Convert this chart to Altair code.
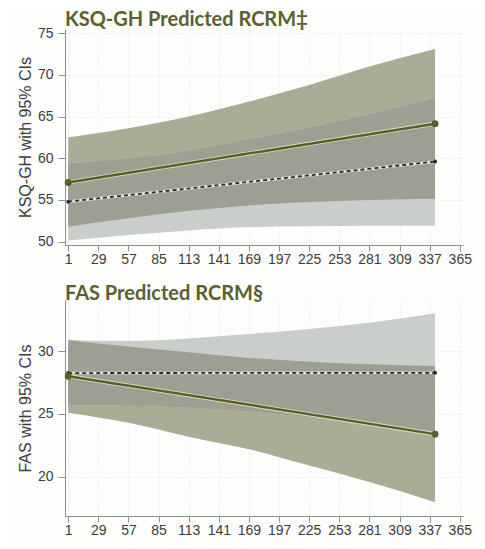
import altair as alt
import pandas as pd

# ---------------- data ----------------
band_days = [1, 57, 113, 169, 225, 281, 342]
line_days = [1, 342]
x_ticks = [1, 29, 57, 85, 113, 141, 169, 197, 225, 253, 281, 309, 337, 365]

# KSQ-GH panel
ksq_tx_mean = [57.1, 64.15]
ksq_ctl_mean = [54.8, 59.6]
ksq_tx_hi = [62.5, 63.6, 65.0, 66.8, 68.8, 71.0, 73.1]
ksq_tx_lo = [51.8, 52.8, 53.7, 54.35, 54.75, 55.0, 55.15]
ksq_ctl_hi = [59.4, 60.0, 60.9, 62.3, 63.7, 65.3, 67.3]
ksq_ctl_lo = [50.15, 50.8, 51.35, 51.75, 51.85, 51.9, 51.9]
ksq_yticks = [50, 55, 60, 65, 70, 75]

# FAS panel
fas_tx_mean = [28.0, 23.4]
fas_ctl_mean = [28.25, 28.27]
fas_tx_hi = [30.9, 30.35, 29.9, 29.45, 29.15, 28.95, 28.8]
fas_tx_lo = [25.1, 24.3, 23.2, 22.2, 20.9, 19.6, 18.0]
fas_ctl_hi = [30.85, 30.8, 31.0, 31.35, 31.75, 32.25, 33.0]
fas_ctl_lo = [25.7, 25.65, 25.5, 25.2, 24.75, 24.2, 23.55]
fas_yticks = [20, 25, 30]

# ---------------- styling ----------------
OLIVE_BAND = "#abac95"
GREY_BAND = "#c9cecb"
OVERLAP = "#9c9f91"
OLIVE_LINE = "#5a5e2c"
DARK_LINE = "#2a2e2a"
TITLE_COLOR = "#5b6030"
W, H = 398, 216


def panel(title, ytitle, ydomain, yticks, tx_mean, ctl_mean,
          tx_hi, tx_lo, ctl_hi, ctl_lo):
    bands = pd.DataFrame({"day": band_days, "tx_hi": tx_hi, "tx_lo": tx_lo,
                          "ctl_hi": ctl_hi, "ctl_lo": ctl_lo})
    bands["ov_hi"] = bands[["tx_hi", "ctl_hi"]].min(axis=1)
    bands["ov_lo"] = bands[["tx_lo", "ctl_lo"]].max(axis=1)
    lines = pd.DataFrame({"day": line_days, "tx": tx_mean, "ctl": ctl_mean})

    x = alt.X("day:Q",
              scale=alt.Scale(domain=[-2, 368], nice=False, zero=False),
              axis=alt.Axis(values=x_ticks, title=None, labelOverlap=False,
                            labelFlush=False, tickSize=6, labelPadding=1))
    yscale = alt.Scale(domain=ydomain, nice=False, zero=False)
    yaxis = alt.Axis(values=yticks, title=ytitle, tickSize=7,
                     labelPadding=5, titlePadding=4)

    def Y(field):
        return alt.Y(field, type="quantitative", scale=yscale, axis=yaxis,
                     title=ytitle)

    bb = alt.Chart(bands)
    olive = bb.mark_area(color=OLIVE_BAND, interpolate="monotone").encode(
        x=x, y=Y("tx_lo"), y2="tx_hi:Q")
    grey = bb.mark_area(color=GREY_BAND, interpolate="monotone").encode(
        x=x, y=Y("ctl_lo"), y2="ctl_hi:Q")
    ov = bb.mark_area(color=OVERLAP, interpolate="monotone").encode(
        x=x, y=Y("ov_lo"), y2="ov_hi:Q")

    lb = alt.Chart(lines)
    tx_halo = lb.mark_line(color="#dedec6", strokeWidth=4.2).encode(
        x=x, y=Y("tx"))
    tx_line = lb.mark_line(color=OLIVE_LINE, strokeWidth=2.5).encode(
        x=x, y=Y("tx"))
    tx_pts = lb.mark_circle(color=OLIVE_LINE, size=48, opacity=1).encode(
        x=x, y=Y("tx"))
    ctl_halo = lb.mark_line(color="#e4e6e0", strokeWidth=2.6).encode(
        x=x, y=Y("ctl"))
    ctl_line = lb.mark_line(color=DARK_LINE, strokeWidth=1.8,
                            strokeDash=[4, 3]).encode(
        x=x, y=Y("ctl"))
    ctl_pts = lb.mark_circle(color=DARK_LINE, size=16, opacity=1).encode(
        x=x, y=Y("ctl"))

    return alt.layer(olive, grey, ov, ctl_halo, ctl_line, ctl_pts,
                     tx_halo, tx_line, tx_pts).properties(
        width=W, height=H,
        title=alt.TitleParams(text=title, anchor="start", frame="group",
                              font="Lato", fontSize=20, fontWeight="bold",
                              color=TITLE_COLOR, offset=-4))


top = panel("KSQ-GH Predicted RCRM\u2021", "KSQ-GH with 95% CIs",
            [49.6, 75.5], ksq_yticks, ksq_tx_mean, ksq_ctl_mean,
            ksq_tx_hi, ksq_tx_lo, ksq_ctl_hi, ksq_ctl_lo)
bottom = panel("FAS Predicted RCRM\u00a7", "FAS with 95% CIs",
               [16.9, 34.05], fas_yticks, fas_tx_mean, fas_ctl_mean,
               fas_tx_hi, fas_tx_lo, fas_ctl_hi, fas_ctl_lo)

chart = alt.vconcat(top, bottom, spacing=18).properties(
    background="#fdfdfb",
    padding={"left": 9, "top": 2, "right": 5, "bottom": 5},
).configure_view(stroke=None).configure_axis(
    domainColor="#8a948f", tickColor="#8a948f",
    labelFont="Liberation Sans", labelFontSize=14, labelColor="#3c3c3c",
    titleFont="Liberation Sans", titleFontSize=16, titleFontWeight="normal",
    titleColor="#3c3c3c",
    grid=True, gridColor="#e2e2e2", gridDash=[1, 2],
)

chart.save("out.html", embed_options={"renderer": "svg", "actions": False})
